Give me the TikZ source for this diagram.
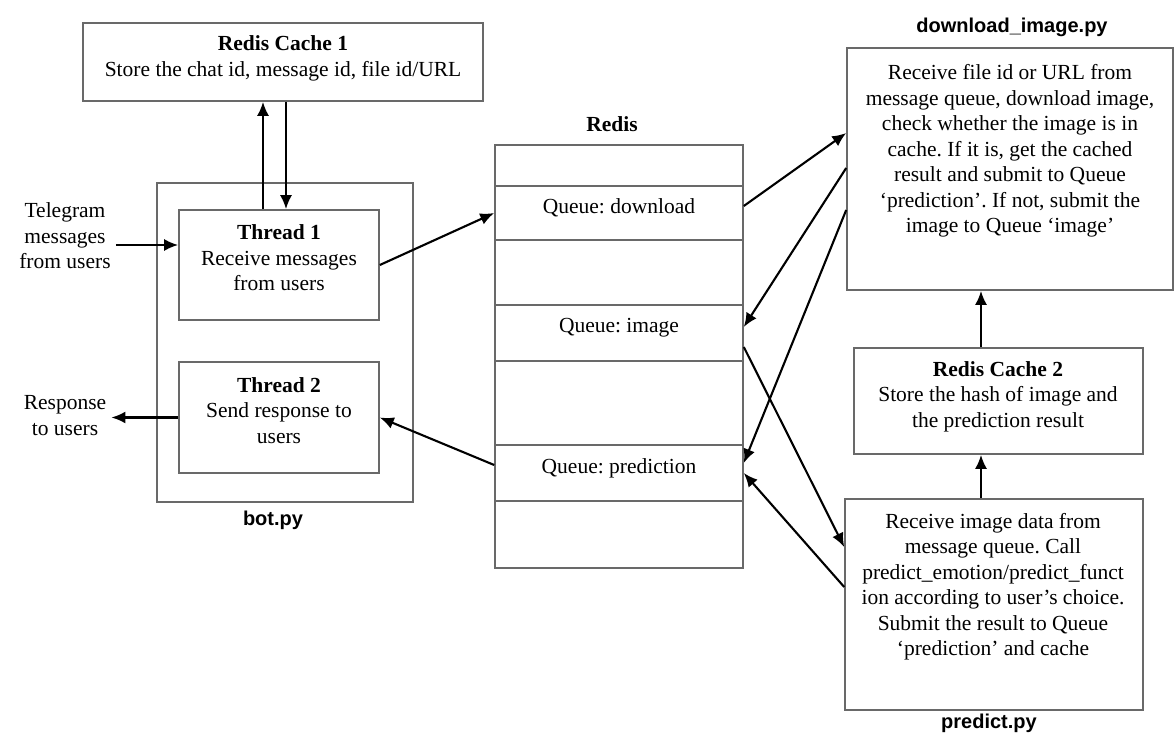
\documentclass[tikz,border=0pt]{standalone}
\usepackage{fontspec}
\setmainfont{Liberation Serif}
\setsansfont{Liberation Sans}
\usetikzlibrary{arrows.meta}
\usetikzlibrary{calc}
\frenchspacing
\definecolor{edge}{RGB}{105,105,105}
\tikzset{
  blk/.style={draw=edge, line width=1.6pt, inner sep=0pt},
  txt/.style={align=center, inner sep=0pt, font=\fontsize{21.5}{25.5}\selectfont},
  title/.style={inner sep=0pt, font=\sffamily\bfseries\fontsize{20}{24}\selectfont},
  arr/.style={line width=2.1pt, -{Latex[length=14pt,width=12pt]}},
}

\begin{document}
\begin{tikzpicture}[x=1pt, y=-1pt]
      \useasboundingbox (0,0) rectangle (1175,747);

      % bot.py with its two threads
      \node [blk, minimum width=256pt, minimum height=319pt] (bot) at (285, 342.5) {};
      \node [title] (botname) at (273, 520) {bot.py};
      \node [blk, minimum width=200pt, minimum height=110pt] (thread1) at (279, 265) {};
      \node [txt] (thread1txt) at (279, 258) {\textbf{Thread 1}\\Receive messages\\from users};
      \node [blk, minimum width=200pt, minimum height=111pt] (thread2) at (279, 417.5) {};
      \node [txt] (thread2txt) at (279, 410.5) {\textbf{Thread 2}\\Send response to\\users};

      \node [blk, minimum width=400pt, minimum height=78pt] (cache1) at (283, 62) {};
      \node [txt] (cache1txt) at (283, 58.5) {\textbf{Redis Cache 1}\\Store the chat id, message id, file id/URL};

      \node [txt, inner xsep=5pt] (tg) at (65, 236) {Telegram\\messages\\from users};
      \node [txt, inner xsep=5pt] (resp) at (65, 415.5) {Response\\to users};

      % redis queues
      \node [txt, font=\bfseries\fontsize{21.5}{25.5}\selectfont] (redisname) at (612, 124) {Redis};
      \node [blk, minimum width=248pt, minimum height=423pt] (redis) at (619, 356.5) {};
      \node [blk, minimum width=248pt, minimum height=54pt] (qdl) at (619, 213) {};
      \node [txt] (qdltxt) at (619, 208) {Queue: download};
      \node [blk, minimum width=248pt, minimum height=56pt] (qimg) at (619, 333) {};
      \node [txt] (qimgtxt) at (619, 328) {Queue: image};
      \node [blk, minimum width=248pt, minimum height=56pt] (qpred) at (619, 473) {};
      \node [txt] (qpredtxt) at (619, 468) {Queue: prediction};

      % workers
      \node [title] (dlname) at (1012, 27) {download\_image.py};
      \node [blk, minimum width=326pt, minimum height=242pt] (dl) at (1010, 169) {};
      \node [txt] (dltxt) at (1010, 151) {Receive file id or URL from\\message queue, download image,\\check whether the image is in\\cache. If it is, get the cached\\result and submit to Queue\\`prediction'. If not, submit the\\image to Queue `image'};

      \node [blk, minimum width=289pt, minimum height=106pt] (cache2) at (998.5, 401) {};
      \node [txt] (cache2txt) at (998, 396.5) {\textbf{Redis Cache 2}\\Store the hash of image and\\the prediction result};

      \node [blk, minimum width=298pt, minimum height=211pt] (pred) at (994, 604.5) {};
      \node [txt] (predtxt) at (993, 586.5) {Receive image data from\\message queue. Call\\predict\_emotion/predict\_funct\\ion according to user's choice.\\Submit the result to Queue\\`prediction' and cache};
      \node [title] (predname) at (989, 723) {predict.py};

      % connectors
      \coordinate (t1up) at ([xshift=-16pt]thread1.north);
      \coordinate (t1dn) at ([xshift=7pt]thread1.north);
      \draw [arr] (t1up) -- (t1up |- cache1.south);
      \draw [arr] (t1dn |- cache1.south) -- (t1dn);

      \coordinate (t1in) at ([yshift=20pt]thread1.west);
      \draw [arr] (tg.east |- t1in) -- (t1in);
      \draw [arr] (thread2.west) -- (resp.east |- thread2.west);

      \draw [arr] (thread1.east) -- (qdl.west);
      \draw [arr] ([yshift=8pt]qpred.west) -- (thread2.east);

      \draw [arr] ([yshift=7pt]qdl.east) -- ([yshift=36pt]dl.west);
      \draw [arr] ([yshift=1pt]dl.west) -- ([yshift=6pt]qimg.east);
      \draw [arr] ([yshift=-41pt]dl.west) -- ([yshift=10pt]qpred.east);
      \draw [arr] ([yshift=-14pt]qimg.east) -- ([yshift=57.5pt]pred.west);
      \draw [arr] ([yshift=17.5pt]pred.west) -- (qpred.east);

      \coordinate (p2c) at ([xshift=-13pt]pred.north);
      \draw [arr] (p2c) -- (p2c |- cache2.south);
      \draw [arr] (p2c |- cache2.north) -- (p2c |- dl.south);
\end{tikzpicture}
\end{document}
